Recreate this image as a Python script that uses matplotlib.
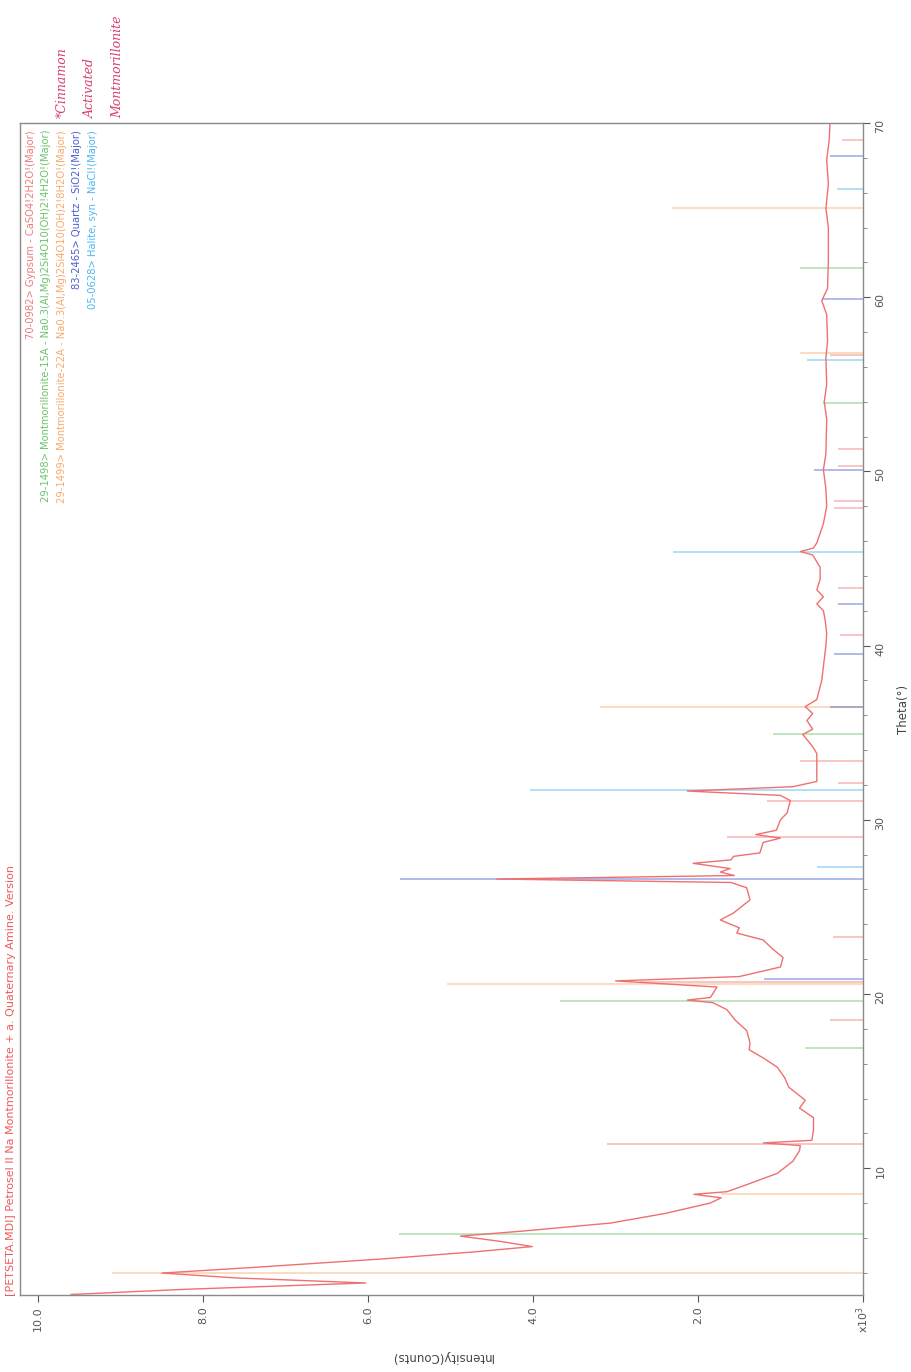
import numpy as np
import matplotlib.pyplot as plt
from matplotlib.ticker import MultipleLocator, FixedLocator, FuncFormatter

# measured pattern: 2-theta (deg) and counts
theta = [2.75, 3.05, 3.41, 3.7, 3.98, 4.3, 4.8, 5.2, 5.5, 5.8, 6.1, 6.4, 6.85,
         7.4, 8.0, 8.3, 8.5, 8.65, 8.9, 9.7, 10.4, 11.0, 11.3, 11.45, 11.6,
         12.2, 12.9, 13.45, 13.9, 14.65, 15.2, 15.8, 16.3, 16.8, 17.2, 17.9,
         18.5, 19.1, 19.5, 19.65, 19.8, 20.4, 20.75, 21.0, 21.55, 22.1, 22.6,
         23.1, 23.5, 23.8, 24.25, 24.65, 25.4, 26.1, 26.4, 26.6, 26.8, 27.0,
         27.2, 27.5, 27.7, 27.9, 28.1, 28.7, 28.95, 29.15, 29.4, 30.0, 30.4,
         31.1, 31.4, 31.65, 31.9, 32.2, 33.0, 33.8, 34.2, 34.9, 35.2, 35.7,
         36.1, 36.5, 36.9, 38.0, 38.8, 40.0, 40.7, 41.5, 42.0, 42.4, 42.8,
         43.2, 43.8, 44.5, 45.2, 45.4, 45.6, 45.9, 47.0, 48.0, 49.0, 50.1,
         51.0, 53.0, 54.0, 55.0, 56.5, 57.5, 59.0, 59.8, 60.5, 62.0, 64.0,
         65.1, 66.5, 67.9, 69.0, 70.0]
counts = [9600, 8200, 6030, 7600, 8500, 7400, 5800, 4700, 4010, 4400, 4880,
          4100, 3060, 2400, 1850, 1720, 2050, 1650, 1500, 1040, 850, 770, 760,
          1210, 620, 600, 600, 770, 700, 900, 950, 1040, 1200, 1380, 1370,
          1410, 1550, 1650, 1820, 2130, 1850, 1770, 3000, 1500, 1000, 970,
          1100, 1210, 1530, 1500, 1730, 1570, 1370, 1410, 1600, 4440, 1560,
          1730, 1610, 2060, 1600, 1570, 1250, 1210, 1000, 1300, 1050, 1000,
          920, 880, 1000, 2130, 850, 560, 560, 560, 610, 730, 610, 680, 610,
          700, 560, 500, 480, 450, 440, 460, 480, 560, 480, 560, 520, 520,
          610, 760, 600, 560, 480, 440, 450, 480, 450, 440, 470, 440, 450,
          430, 440, 500, 430, 420, 420, 450, 420, 440, 410, 400]

# reference card sticks
gypsum_pos = [11.4, 18.5, 20.7, 23.3, 29.0, 31.1, 32.1, 33.4, 40.6, 43.3,
              47.9, 48.3, 50.3, 51.3, 56.7, 69.0]
gypsum_int = [3100, 400, 2700, 360, 1650, 1160, 300, 760, 280, 300,
              350, 350, 300, 300, 400, 250]
mont15_pos = [6.2, 16.9, 19.6, 34.9, 53.9, 61.7]
mont15_int = [5620, 700, 3670, 1090, 480, 760]
mont22_pos = [3.98, 8.52, 20.6, 36.5, 56.8, 65.1]
mont22_int = [9100, 1720, 5040, 3190, 760, 2320]
quartz_pos = [20.86, 26.6, 36.5, 39.5, 42.4, 50.1, 59.9, 68.1]
quartz_int = [1200, 5610, 400, 350, 300, 600, 500, 400]
halite_pos = [27.3, 31.7, 45.4, 56.4, 66.2]
halite_int = [560, 4040, 2300, 680, 310]

phase_labels = [
    "70-0982> Gypsum - CaSO4!2H2O!(Major)",
    "29-1498> Montmorillonite-15A - Na0.3(Al,Mg)2Si4O10(OH)2!4H2O!(Major)",
    "29-1499> Montmorillonite-22A - Na0.3(Al,Mg)2Si4O10(OH)2!8H2O!(Major)",
    "83-2465> Quartz - SiO2!(Major)",
    "05-0628> Halite, syn - NaCl!(Major)",
]
phase_colors = ["#f07a7a", "#6cc46c", "#f6ab70", "#4c5fd0", "#4fb6ee"]

title = "[PETSETA.MDI] Petrosel II Na Montmorillonite + a. Quaternary Amine. Version"
notes = ["*Cinnamon", "Activated", "Montmorillonite"]

intensity_ticks = [0, 2000, 4000, 6000, 8000, 10000]
theta_ticks = [10, 20, 30, 40, 50, 60, 70]

W, H = 912, 1372
fig = plt.figure(figsize=(W / 100, H / 100), dpi=100)
ax = fig.add_axes([20 / W, 1 - 1295 / H, 843 / W, 1172 / H])

# page is turned: intensity runs right-to-left, theta runs upward
phases = [(gypsum_pos, gypsum_int), (mont15_pos, mont15_int),
          (mont22_pos, mont22_int), (quartz_pos, quartz_int),
          (halite_pos, halite_int)]
for (pos, hts), col in zip(phases, phase_colors):
    ax.hlines(pos, 0, hts, colors=col, lw=1.1, alpha=0.55, zorder=1)

ax.plot(counts, theta, color="#ee7070", lw=1.0, zorder=2)

ax.set_xlim(10220, 0)
ax.set_ylim(2.72, 70)

ax.xaxis.set_major_locator(FixedLocator(intensity_ticks))
ax.xaxis.set_major_formatter(
    FuncFormatter(lambda v, p: "x10$^3$" if v == 0 else f"{v / 1000:.1f}"))
ax.yaxis.set_major_locator(FixedLocator(theta_ticks))
ax.yaxis.set_minor_locator(MultipleLocator(2))
ax.yaxis.tick_right()
ax.yaxis.set_label_position("right")

ax.tick_params(axis="x", direction="out", length=5, width=0.8, labelsize=8,
               labelrotation=90, colors="#555555", pad=3)
ax.tick_params(axis="y", which="major", direction="out", length=5, width=0.8,
               labelsize=8, labelrotation=90, colors="#555555", pad=4)
ax.tick_params(axis="y", which="minor", direction="out", length=3,
               width=0.6, colors="#777777")

ax.set_xlabel("Intensity(Counts)", rotation=180, fontsize=8.5,
              color="#444444", labelpad=12)
ax.set_ylabel("Theta(°)", rotation=90, fontsize=8.5, color="#444444",
              labelpad=8)

for sp in ax.spines.values():
    sp.set_color("#8a8a8a")
    sp.set_linewidth(1.0)

# phase list in the upper corner
for i, (lab, col) in enumerate(zip(phase_labels, phase_colors)):
    fig.text((31 + 15.5 * i) / W, 1 - 130 / H, lab, rotation=90,
             ha="center", va="top", fontsize=7.2, color=col)

fig.text(11 / W, 1 - 1296 / H, title, rotation=90, ha="center",
         va="bottom", fontsize=8, color="#ee5a5a")

# pen notes above the frame
for i, t in enumerate(notes):
    fig.text((62 + 28 * i) / W, 1 - 118 / H, t, rotation=90, ha="center",
             va="bottom", fontsize=9, color="#d8406a", style="italic",
             family="DejaVu Serif")

fig.savefig("out.png", dpi=100, facecolor="white")
